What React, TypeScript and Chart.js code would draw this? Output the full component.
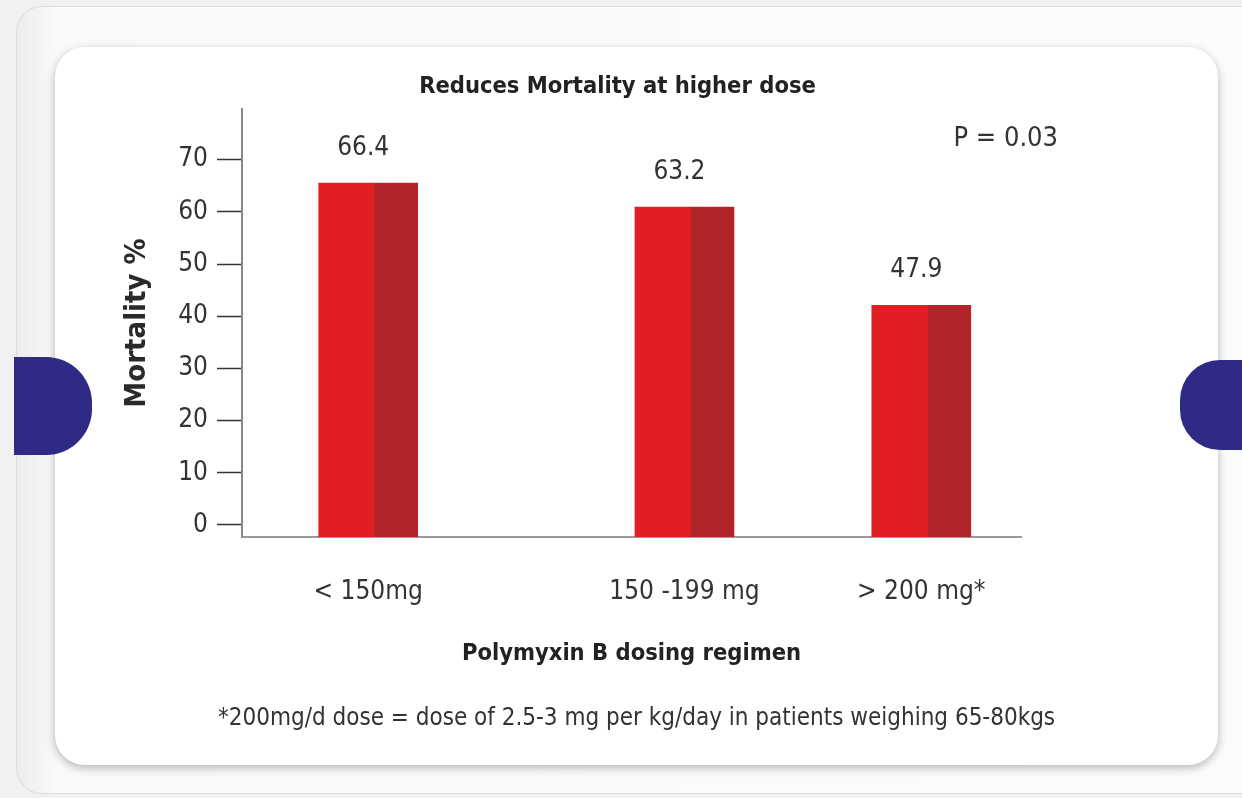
import React, { useEffect, useRef } from "react";
import { Chart, registerables } from "chart.js";

Chart.register(...registerables);

// ---- data ----
const categories = ["< 150mg", "150 -199 mg", "> 200 mg*"];
// where each dosing group sits along the horizontal axis (0–100 units)
const categorySlots = [16.2, 56.8, 87.2];
// bar heights as drawn in the picture
const mortality = [65.5, 60.9, 42.1];
// values printed above the bars
const valueLabels = ["66.4", "63.2", "47.9"];
const yTicks = [0, 10, 20, 30, 40, 50, 60, 70];
const chartTitle = "Reduces Mortality at higher dose";
const xTitle = "Polymyxin B dosing regimen";
const yTitle = "Mortality %";
const pValueText = "P = 0.03";
const footnote =
  "*200mg/d dose = dose of 2.5-3 mg per kg/day in patients weighing 65-80kgs";

// ---- styles ----
const Y_MIN = -2.3;
const Y_MAX = 79.7;
const BRIGHT = "#e21e25";
const DARK = "#b12427";
const TEXT = "#333333";
const FAMILY =
  '"Liberation Sans Narrow", "Arial Narrow", "DejaVu Sans Condensed", "Roboto", sans-serif';

const decorPlugin = {
  id: "decor",
  afterDatasetsDraw(chart: any) {
    const { ctx, chartArea } = chart;
    const meta = chart.getDatasetMeta(0);
    ctx.save();
    meta.data.forEach((bar: any, i: number) => {
      const { x, y, base, width } = bar.getProps(["x", "y", "base", "width"], true);
      const left = x - width / 2;
      const split = left + width * 0.565;
      ctx.fillStyle = DARK;
      ctx.fillRect(split, y, x + width / 2 - split, base - y);
      ctx.fillStyle = TEXT;
      ctx.font = `26px ${FAMILY}`;
      ctx.textAlign = "center";
      ctx.textBaseline = "middle";
      ctx.fillText(valueLabels[i], x - 5, y - 35);
    });
    // chart title
    ctx.fillStyle = "#222222";
    ctx.font = `bold 23.5px ${FAMILY}`;
    ctx.textAlign = "center";
    ctx.textBaseline = "middle";
    ctx.fillText(chartTitle, (chartArea.left + chartArea.right) / 2 - 14, 87);
    // p value
    ctx.fillStyle = TEXT;
    ctx.font = `27px ${FAMILY}`;
    ctx.textAlign = "right";
    ctx.fillText(pValueText, chartArea.right + 37, 139);
    // footnote
    ctx.font = `24px ${FAMILY}`;
    ctx.textAlign = "center";
    ctx.fillText(footnote, (chartArea.left + chartArea.right) / 2 + 5, 719);
    ctx.restore();
  },
};

export default function App() {
  const ref = useRef<HTMLCanvasElement | null>(null);

  useEffect(() => {
    if (!ref.current) return;
    const chart = new Chart(ref.current, {
      type: "bar",
      data: {
        datasets: [
          {
            data: categorySlots.map((x, i) => ({ x, y: mortality[i] })),
            backgroundColor: BRIGHT,
            borderWidth: 0,
            barThickness: 99,
            base: Y_MIN,
          } as any,
        ],
      },
      options: {
        animation: false,
        responsive: false,
        maintainAspectRatio: false,
        layout: { padding: { left: 100, right: 221, top: 109, bottom: 0 } },
        plugins: {
          legend: { display: false },
          tooltip: { enabled: false },
          title: { display: false },
        },
        scales: {
          x: {
            type: "linear",
            min: 0,
            max: 100,
            offset: false,
            afterBuildTicks: (s: any) => {
              s.ticks = categorySlots.map((v) => ({ value: v }));
            },
            afterFit: (s: any) => {
              s.height = 261;
            },
            ticks: {
              autoSkip: false,
              maxRotation: 0,
              padding: 40,
              color: TEXT,
              font: { family: FAMILY, size: 26 },
              callback: (v: any) => {
                const i = categorySlots.indexOf(Number(v));
                return i >= 0 ? categories[i] : "";
              },
            },
            grid: { display: false, drawTicks: false },
            border: { display: true, color: "#9a9a9a", width: 2 },
            title: {
              display: true,
              text: xTitle,
              color: "#222222",
              font: { family: FAMILY, size: 23.5, weight: "bold" },
              padding: { top: 0, bottom: 130 },
            },
          } as any,
          y: {
            min: Y_MIN,
            max: Y_MAX,
            afterBuildTicks: (s: any) => {
              s.ticks = yTicks.map((v) => ({ value: v }));
            },
            afterFit: (s: any) => {
              s.width = 142;
            },
            ticks: {
              padding: 9,
              color: TEXT,
              font: { family: FAMILY, size: 26 },
            },
            grid: {
              display: true,
              drawOnChartArea: false,
              drawTicks: true,
              tickLength: 25,
              tickColor: "#333333",
              tickWidth: 1.5,
            },
            border: { display: true, color: "#8a8a8a", width: 2 },
            title: {
              display: true,
              text: yTitle,
              color: "#2a2a2a",
              font: { family: FAMILY, size: 29, weight: "bold" },
              padding: { top: 20, bottom: 0 },
            },
          } as any,
        },
      },
      plugins: [decorPlugin],
    });
    return () => chart.destroy();
  }, []);

  return (
    <div
      style={{
        position: "fixed",
        left: 0,
        top: 0,
        width: 1242,
        height: 798,
        overflow: "hidden",
        background: "#f1f1f1",
      }}
    >
      <div
        style={{
          position: "absolute",
          left: 16,
          top: 6,
          width: 1300,
          height: 786,
          borderRadius: 26,
          border: "1px solid #dcdcdc",
          background: "linear-gradient(90deg, #ececec 0px, #fafafa 40px, #fcfcfc 100%)",
        }}
      />
      <div
        style={{
          position: "absolute",
          left: 55,
          top: 47,
          width: 1163,
          height: 718,
          borderRadius: 30,
          background: "#ffffff",
          boxShadow: "0 3px 10px rgba(0,0,0,0.28)",
        }}
      />
      <canvas
        ref={ref}
        width={1242}
        height={798}
        style={{ position: "absolute", left: 0, top: 0, width: 1242, height: 798 }}
      />
      <div
        style={{
          position: "absolute",
          left: 14,
          top: 357,
          width: 78,
          height: 98,
          background: "#2e2a86",
          borderRadius: "0 46px 46px 0",
        }}
      />
      <div
        style={{
          position: "absolute",
          left: 1180,
          top: 360,
          width: 80,
          height: 90,
          background: "#2e2a86",
          borderRadius: "40px 0 0 40px",
        }}
      />
    </div>
  );
}
